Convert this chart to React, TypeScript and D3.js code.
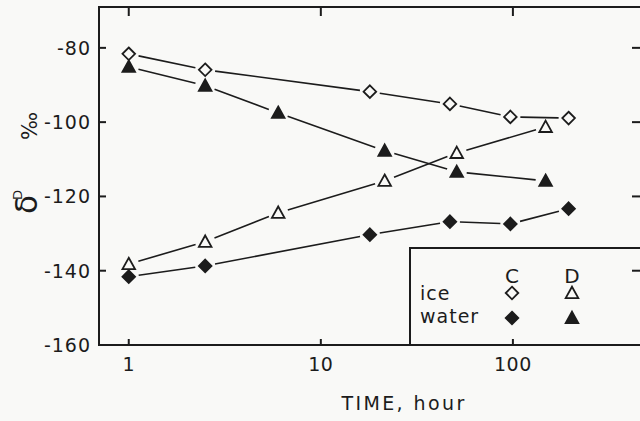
import React from "react";
import * as d3 from "d3";

const timesC = [1, 2.5, 18, 47, 97, 195];
const timesD = [1, 2.5, 6, 21.5, 51, 148];
const iceC = [-81.6, -85.9, -91.8, -95.1, -98.6, -98.9];
const waterC = [-141.6, -138.7, -130.3, -126.8, -127.4, -123.3];
const iceD = [-138.2, -132.2, -124.4, -115.8, -108.3, -101.3];
const waterD = [-85.1, -90.2, -97.5, -107.7, -113.4, -115.8];
const yTicks = [-80, -100, -120, -140, -160];
const xTicks = [1, 10, 100];
const xTickLabels = ["1", "10", "100"];

const W = 640, H = 421;
const INK = "#1c1c1c";
const BG = "#f9f9f7";
const FONT = "'DejaVu Sans', sans-serif";

type Kind = "diamondOpen" | "diamondFilled" | "triOpen" | "triFilled";

function Marker({ x, y, kind }: { x: number; y: number; kind: Kind }) {
  if (kind.startsWith("diamond")) {
    const r = 6.3;
    const d = `M${x},${y - r}L${x + r},${y}L${x},${y + r}L${x - r},${y}Z`;
    const filled = kind === "diamondFilled";
    return <path d={d} fill={filled ? INK : BG} stroke={INK} strokeWidth={1.8} />;
  }
  const s = 6.3;
  const d = `M${x},${y - s}L${x + s},${y + s * 0.8}L${x - s},${y + s * 0.8}Z`;
  const filled = kind === "triFilled";
  return <path d={d} fill={filled ? INK : BG} stroke={INK} strokeWidth={1.8} />;
}

export default function App() {
  const x = d3.scaleLog().domain([0.7, 470]).range([99, 642]);
  const y = d3.scaleLinear().domain([-160, -69]).range([345, 7]);

  const series: { t: number[]; v: number[]; kind: Kind }[] = [
    { t: timesC, v: iceC, kind: "diamondOpen" },
    { t: timesC, v: waterC, kind: "diamondFilled" },
    { t: timesD, v: iceD, kind: "triOpen" },
    { t: timesD, v: waterD, kind: "triFilled" },
  ];

  const gap = 10;
  const segs = (t: number[], v: number[]) => {
    const out: string[] = [];
    for (let i = 0; i < t.length - 1; i++) {
      const x1 = x(t[i]), y1 = y(v[i]), x2 = x(t[i + 1]), y2 = y(v[i + 1]);
      const L = Math.hypot(x2 - x1, y2 - y1);
      if (L <= gap * 2) continue;
      const ux = (x2 - x1) / L, uy = (y2 - y1) / L;
      out.push(`M${x1 + ux * gap},${y1 + uy * gap}L${x2 - ux * gap},${y2 - uy * gap}`);
    }
    return out.join("");
  };

  const left = 99, right = 642, top = 7, bottom = 345;

  return (
    <svg width={W} height={H} style={{ position: "absolute", left: 0, top: 0, background: BG }}>
      <rect x={0} y={0} width={W} height={H} fill={BG} />
      <path d={`M${left},${top}H${right}V${bottom}H${left}Z`} fill="none" stroke={INK} strokeWidth={2} />
      {yTicks.map((t) => (
        <g key={t}>
          <line x1={left} x2={left + 7} y1={y(t)} y2={y(t)} stroke={INK} strokeWidth={2} />
          <line x1={right - 10} x2={right} y1={y(t)} y2={y(t)} stroke={INK} strokeWidth={2} />
          <text x={91} y={y(t)} dy="0.36em" textAnchor="end" fontSize={19} fontFamily={FONT} fill={INK} letterSpacing={1}>
            {t}
          </text>
        </g>
      ))}
      {xTicks.map((t, i) => (
        <g key={t}>
          <line x1={x(t)} x2={x(t)} y1={bottom} y2={bottom - 6} stroke={INK} strokeWidth={2} />
          <line x1={x(t)} x2={x(t)} y1={top} y2={top + 9} stroke={INK} strokeWidth={2} />
          <text x={x(t)} y={371} textAnchor="middle" fontSize={19} fontFamily={FONT} fill={INK} letterSpacing={0.5}>
            {xTickLabels[i]}
          </text>
        </g>
      ))}
      <text x={404} y={410} textAnchor="middle" fontSize={19} fontFamily={FONT} fill={INK} letterSpacing={2.4}>
        TIME, hour
      </text>
      <g transform="translate(37,214) rotate(-90)">
        <text x={0} y={0} fontFamily={FONT} fill={INK}>
          <tspan fontSize={31}>δ</tspan>
          <tspan fontSize={13} dy={-15} dx={-5}>D</tspan>
          <tspan fontSize={21} dy={15} dx={50}>‰</tspan>
        </text>
      </g>
      {series.map((s, i) => (
        <path key={i} d={segs(s.t, s.v)} fill="none" stroke={INK} strokeWidth={1.6} />
      ))}
      {series.map((s, i) =>
        s.t.map((t, j) => <Marker key={`${i}-${j}`} x={x(t)} y={y(s.v[j])} kind={s.kind} />)
      )}
      <path d={`M410,${bottom}V248H${right}`} fill="none" stroke={INK} strokeWidth={2} />
      <text x={512} y={283} textAnchor="middle" fontSize={20} fontFamily={FONT} fill={INK}>C</text>
      <text x={572} y={283} textAnchor="middle" fontSize={20} fontFamily={FONT} fill={INK}>D</text>
      <text x={420} y={300} fontSize={19} fontFamily={FONT} fill={INK} letterSpacing={1}>ice</text>
      <text x={420} y={323} fontSize={19} fontFamily={FONT} fill={INK} letterSpacing={1}>water</text>
      <Marker x={512} y={293} kind="diamondOpen" />
      <Marker x={572} y={293} kind="triOpen" />
      <Marker x={512} y={318} kind="diamondFilled" />
      <Marker x={572} y={318} kind="triFilled" />
    </svg>
  );
}
